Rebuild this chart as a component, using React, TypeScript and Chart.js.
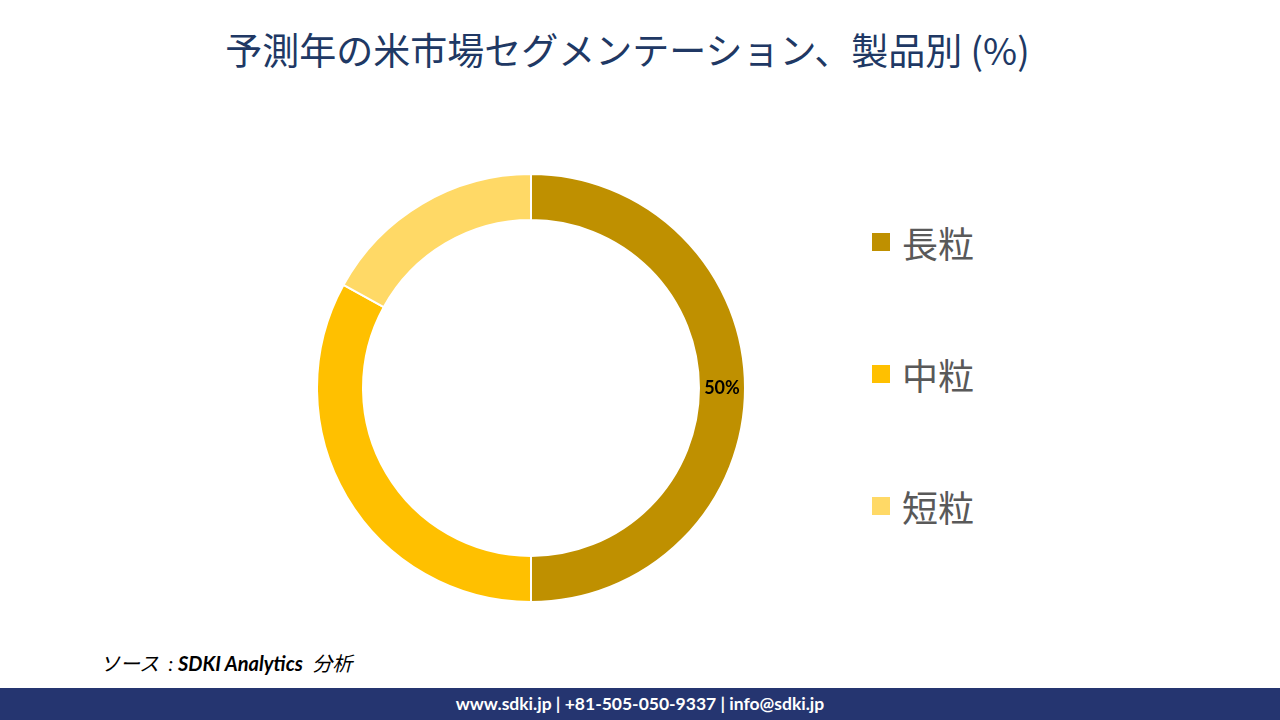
import React, { useEffect, useRef } from "react";
import { Chart, registerables } from "chart.js";

Chart.register(...registerables);

const title = "予測年の米市場セグメンテーション、製品別 (%)";
const categories = ["長粒", "中粒", "短粒"];
const values = [50, 33, 17];
const colors = ["#BF9000", "#FFC000", "#FFD966"];
const shownLabels = ["50%", "", ""];
const sourceText = "ソース  : ";
const sourceBold = "SDKI Analytics";
const sourceTail = "  分析";
const footerText = "www.sdki.jp | +81-505-050-9337 | info@sdki.jp";

const labelPlugin = {
  id: "sliceLabels",
  afterDatasetsDraw(chart: any) {
    const ctx = chart.ctx;
    const meta = chart.getDatasetMeta(0);
    ctx.save();
    ctx.font = "bold 18px Lato, 'Noto Sans', sans-serif";
    ctx.fillStyle = "#000000";
    ctx.textAlign = "center";
    ctx.textBaseline = "middle";
    meta.data.forEach((arc: any, i: number) => {
      const t = shownLabels[i];
      if (!t) return;
      const p = arc.tooltipPosition();
      ctx.fillText(t, p.x, p.y);
    });
    ctx.restore();
  },
};

export default function App() {
  const ref = useRef<HTMLCanvasElement>(null);
  useEffect(() => {
    document.body.style.margin = "0";
    const chart = new Chart(ref.current!, {
      type: "doughnut",
      data: {
        labels: categories,
        datasets: [
          {
            data: values,
            backgroundColor: colors,
            borderColor: "#ffffff",
            borderWidth: 2,
          },
        ],
      },
      options: {
        animation: false,
        responsive: false,
        cutout: "78.5%",
        layout: { padding: 0 },
        plugins: { legend: { display: false }, tooltip: { enabled: false } },
      },
      plugins: [labelPlugin],
    });
    return () => chart.destroy();
  }, []);

  return (
    <div
      style={{
        position: "fixed",
        left: 0,
        top: 0,
        width: 1280,
        height: 720,
        background: "#ffffff",
        overflow: "hidden",
        fontFamily: "'Noto Sans CJK JP', sans-serif",
      }}
    >
      <div
        style={{
          position: "absolute",
          left: 0,
          width: 1255,
          top: 24,
          textAlign: "center",
          fontSize: 37,
          color: "#203864",
          lineHeight: "50px",
        }}
      >
        {title}
      </div>
      <canvas
        ref={ref}
        width={430}
        height={430}
        style={{ position: "absolute", left: 316, top: 173, width: 430, height: 430 }}
      />
      {categories.map((c, i) => (
        <div
          key={c}
          style={{
            position: "absolute",
            left: 872,
            top: 242 + i * 132 - 25,
            height: 50,
            display: "flex",
            alignItems: "center",
          }}
        >
          <div style={{ width: 18, height: 18, background: colors[i], marginRight: 12 }} />
          <span style={{ fontSize: 36, color: "#595959", lineHeight: "50px" }}>{c}</span>
        </div>
      ))}
      <div
        style={{
          position: "absolute",
          left: 100,
          top: 650,
          fontSize: 20,
          fontStyle: "italic",
          color: "#000000",
          lineHeight: "26px",
          fontFamily: "Lato, 'Noto Sans CJK JP', sans-serif",
          whiteSpace: "pre",
        }}
      >
        {sourceText}
        <b>{sourceBold}</b>
        {sourceTail}
      </div>
      <div
        style={{
          position: "absolute",
          left: 0,
          top: 688,
          width: 1280,
          height: 32,
          background: "#253570",
          color: "#ffffff",
          textAlign: "center",
          fontSize: 17.5,
          fontWeight: "bold",
          lineHeight: "32px",
          fontFamily: "Lato, 'Noto Sans', sans-serif",
        }}
      >
        {footerText}
      </div>
    </div>
  );
}
